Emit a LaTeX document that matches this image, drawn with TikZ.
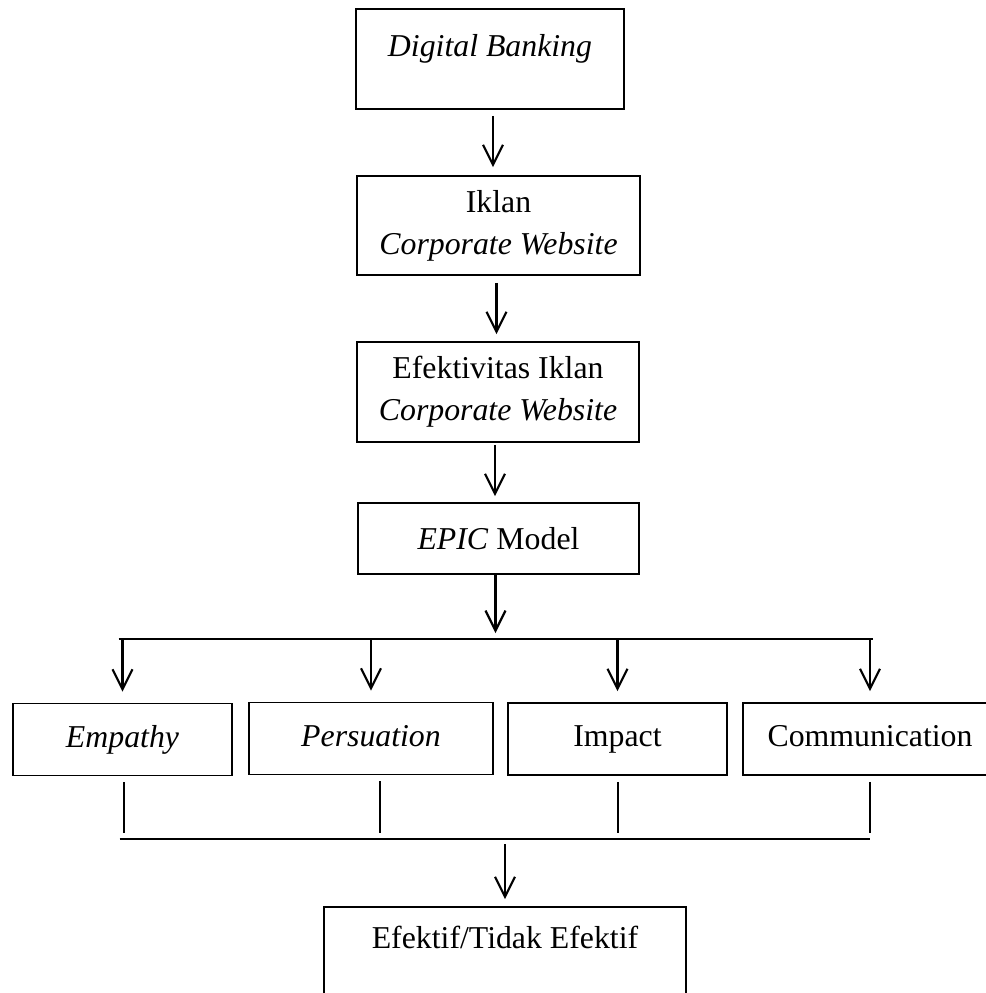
\documentclass[tikz,border=0pt]{standalone}
\usepackage{fontspec}
\setmainfont{Liberation Serif}
\usetikzlibrary{arrows.meta, positioning}

\begin{document}
\begin{tikzpicture}[x=0.5pt, y=-0.5pt,
    box/.style={draw, line width=0.8pt, inner sep=0pt, align=center,
        font=\fontsize{15.9pt}{21pt}\selectfont},
    rowbox/.style={box, minimum height=36pt, text height=11pt, text depth=3.5pt},
    arr/.style={-{Straight Barb[length=10pt, width=10pt]}, line width=1.1pt},
    link/.style={line width=1pt}]
    \useasboundingbox (0,0) rectangle (986,993);

    \node[box, minimum width=134pt, minimum height=50pt, text height=11pt, text depth=14pt] (bank) at (490,59) {\textit{Digital Banking}};
    \node[box, minimum width=141.5pt, minimum height=49.5pt] (iklan) at (498.5,225.5) {Iklan\\ \textit{Corporate Website}};
    \node[box, minimum width=141pt, minimum height=50pt] (efek) at (498,392) {Efektivitas Iklan\\ \textit{Corporate Website}};
    \node[box, minimum width=140.5pt, minimum height=35.5pt] (epic) at (498.5,538.5) {\textit{EPIC} Model};

    \node[rowbox, minimum width=109.5pt] (empathy) at (122.5,739.5) {\textit{Empathy}};
    \node[rowbox, minimum width=122pt] (persuation) at (371,738.5) {\textit{Persuation}};
    \node[rowbox, minimum width=109.5pt] (impact) at (617.5,739) {Impact};
    \node[rowbox, minimum width=127pt] (comm) at (870,739) {Communication};

    \node[box, minimum width=181pt, minimum height=51pt, text height=11pt, text depth=21pt] (hasil) at (505,958) {Efektif/Tidak Efektif};

    \coordinate (busTop) at (496,639);
    \coordinate (busBot) at (503,839);

    \draw[arr, shorten <=3pt, shorten >=4pt] ([xshift=1.5pt]bank.south) -- ([xshift=1.5pt]bank.south |- iklan.north);
    \draw[arr, shorten <=3.5pt, shorten >=3.5pt] ([xshift=-1pt]iklan.south) -- ([xshift=-1pt]iklan.south |- efek.north);
    \draw[arr, shorten <=1pt, shorten >=3pt] ([xshift=-1.5pt]efek.south) -- ([xshift=-1.5pt]efek.south |- epic.north);
    \draw[arr, shorten >=3pt] ([xshift=-1.5pt]epic.south) -- ([xshift=-1.5pt]epic.south |- busTop);

    \draw[link] ([xshift=-2pt]empathy.north |- busTop) -- ([xshift=1.5pt]comm.north |- busTop);
    \foreach \n in {empathy, persuation, impact, comm}
        \draw[arr, shorten >=5.5pt] (\n.north |- busTop) -- (\n.north);

    \draw[link, shorten <=3pt, shorten >=3pt] ([xshift=0.8pt]empathy.south) -- ([xshift=0.8pt]empathy.south |- busBot);
    \draw[link, shorten <=3pt, shorten >=3pt] ([xshift=4.5pt]persuation.south) -- ([xshift=4.5pt]persuation.south |- busBot);
    \draw[link, shorten <=3pt, shorten >=3pt] (impact.south) -- (impact.south |- busBot);
    \draw[link, shorten <=3pt, shorten >=3pt] (comm.south) -- (comm.south |- busBot);
    \draw[link] ([xshift=-1.5pt]empathy.south |- busBot) -- (comm.south |- busBot);

    \draw[arr, shorten <=2.5pt, shorten >=3.5pt] (busBot -| hasil.north) -- (hasil.north);
\end{tikzpicture}
\end{document}
